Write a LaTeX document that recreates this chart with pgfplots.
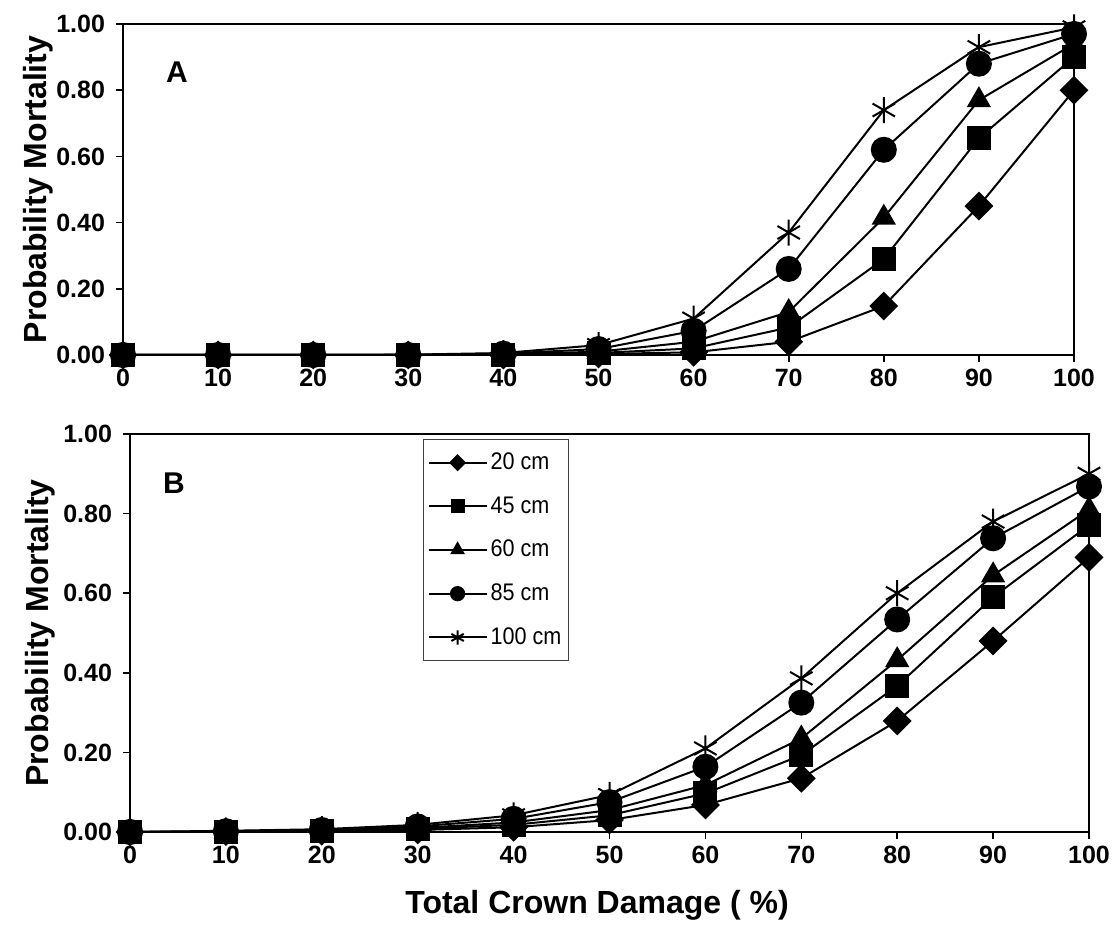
\documentclass[border=0pt]{standalone}
\usepackage{fontspec}
\setmainfont{Liberation Sans}
\newfontfamily\narrowfont[FakeStretch=0.9]{Liberation Sans}
\usepackage{pgfplots}
\usepackage{pgfplotstable}
\pgfplotsset{compat=1.18}

% panel A: crown damage vs mortality, one column per stem diameter
\pgfplotstableread{
x   d20    s45    t60    c85    a100
0   0      0      0      0      0
10  0      0      0      0      0
20  0      0      0      0      0
30  0      0      0      0      0.001
40  0      0.001  0.002  0.004  0.006
50  0.003  0.006  0.010  0.018  0.030
60  0.008  0.020  0.040  0.073  0.110
70  0.040  0.083  0.130  0.260  0.370
80  0.148  0.290  0.415  0.620  0.740
90  0.450  0.655  0.770  0.880  0.930
100 0.800  0.900  0.940  0.970  0.990
}\tabA

% panel B
\pgfplotstableread{
x   d20    s45    t60    c85    a100
0   0      0      0      0      0
10  0.001  0.001  0.001  0.002  0.003
20  0.002  0.003  0.004  0.005  0.007
30  0.005  0.008  0.010  0.014  0.018
40  0.012  0.018  0.024  0.033  0.042
50  0.030  0.042  0.055  0.075  0.093
60  0.068  0.097  0.118  0.164  0.210
70  0.135  0.193  0.235  0.325  0.386
80  0.279  0.367  0.432  0.534  0.600
90  0.480  0.590  0.645  0.738  0.780
100 0.690  0.771  0.810  0.868  0.900
}\tabB

\pgfplotsset{
  mort/.style={
    scale only axis, clip=false,
    xmin=0, xmax=100, ymin=0, ymax=1,
    xtick={0,10,...,100}, ytick={0,0.2,0.4,0.6,0.8,1},
    tick align=outside, major tick length=3.5pt, tick pos=left,
    axis line style={line width=0.8pt},
    every tick/.style={black, line width=0.8pt},
    tick label style={font=\fontsize{12.5}{14}\selectfont\bfseries},
    /pgf/number format/assume math mode=true,
    yticklabel style={xshift=-2pt, /pgf/number format/.cd, fixed, fixed zerofill, precision=2},
    label style={font=\fontsize{16}{19}\selectfont\bfseries},
    every axis plot/.append style={black, line width=1pt},
    legend image code/.code={
      \draw[##1, mark repeat=2, mark phase=2, /tikz/every mark/.append style={scale=0.55}]
        plot coordinates {(0pt,0pt) (14.5pt,0pt) (29pt,0pt)};},
  },
  p20/.style={mark=square*, mark size=4.6pt, mark options={rotate=45, solid}},
  p45/.style={mark=square*, mark size=5.5pt, mark options={solid}},
  p60/.style={mark=triangle*, mark size=6pt, mark options={solid}},
  p85/.style={mark=*, mark size=6pt, mark options={solid}},
  p100/.style={mark=asterisk, mark size=6.5pt, mark options={solid, line width=1pt}},
}

\begin{document}
\begin{tikzpicture}
\path[use as bounding box] (0,0) rectangle (557.5pt,474.5pt);

\begin{axis}[mort,
    at={(61.5pt,297pt)}, anchor=south west,
    width=475.5pt, height=165.5pt,
    ylabel={Probability Mortality},
    ylabel style={at={(axis description cs:-0.0894,0.5)}, anchor=center},
]
\addplot[p20]  table[x=x, y=d20]  {\tabA};
\addplot[p45]  table[x=x, y=s45]  {\tabA};
\addplot[p60]  table[x=x, y=t60]  {\tabA};
\addplot[p85]  table[x=x, y=c85]  {\tabA};
\addplot[p100] table[x=x, y=a100] {\tabA};
\node[font=\fontsize{15}{17}\selectfont\bfseries] at (axis description cs:0.0568,0.855) {A};
\end{axis}

\begin{axis}[mort,
    at={(65pt,58.5pt)}, anchor=south west,
    width=479.5pt, height=199pt,
    ylabel={Probability Mortality},
    ylabel style={at={(axis description cs:-0.0938,0.5)}, anchor=center},
    xlabel={Total Crown Damage ( \%)},
    xlabel style={at={(axis description cs:0.487,-0.183)}, anchor=center},
    legend cell align=left,
    legend style={at={(axis description cs:0.3055,0.987)}, anchor=north west,
      draw=black!75, line width=0.6pt, font=\fontsize{12}{14}\narrowfont,
      row sep=8pt, inner xsep=2pt, inner ysep=4.5pt,
      nodes={inner xsep=1.5pt}},
]
\addplot[p20]  table[x=x, y=d20]  {\tabB};
\addlegendentry{20 cm}
\addplot[p45]  table[x=x, y=s45]  {\tabB};
\addlegendentry{45 cm}
\addplot[p60]  table[x=x, y=t60]  {\tabB};
\addlegendentry{60 cm}
\addplot[p85]  table[x=x, y=c85]  {\tabB};
\addlegendentry{85 cm}
\addplot[p100] table[x=x, y=a100] {\tabB};
\addlegendentry{100 cm}
\node[font=\fontsize{15}{17}\selectfont\bfseries] at (axis description cs:0.0459,0.877) {B};
\end{axis}
\end{tikzpicture}
\end{document}
